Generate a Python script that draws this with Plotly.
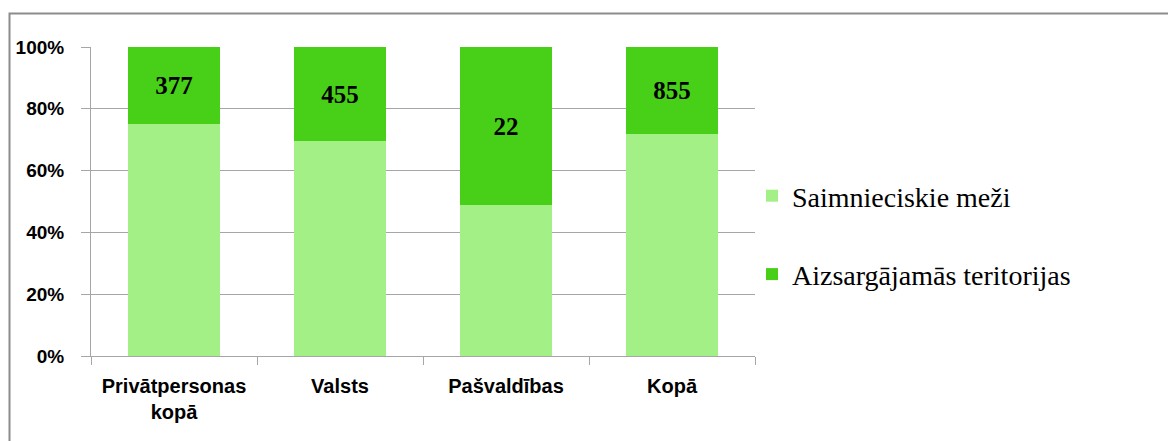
import plotly.graph_objects as go

categories = ["Privātpersonas<br>kopā", "Valsts", "Pašvaldības", "Kopā"]
saimnieciskie = [1131, 1040, 21, 2192]
aizsargajamas = [377, 455, 22, 855]
y_ticks = [0, 20, 40, 60, 80, 100]
y_tick_labels = ["0%", "20%", "40%", "60%", "80%", "100%"]

OFF = 8  # default page body margin
W, H = 1176 - OFF, 441 - OFF
# plot area in reference pixel coords
PL, PR, PT, PB = 91, 755, 47, 356
L, T = PL - OFF, PT - OFF
R, B = W - (PR - OFF), H - (PB - OFF)

fig = go.Figure()
fig.add_trace(go.Bar(
    x=categories, y=saimnieciskie, name="Saimnieciskie meži",
    legendgroup="a",
    marker=dict(color="#A3F087", line=dict(width=0)),
    hoverinfo="skip",
))
fig.add_trace(go.Bar(
    x=categories, y=aizsargajamas, name="Aizsargājamās teritorijas",
    legendgroup="b",
    marker=dict(color="#48D018", line=dict(width=0)),
    text=[str(v) for v in aizsargajamas], textposition="inside",
    insidetextanchor="middle", textangle=0,
    textfont=dict(family="Liberation Serif, Times New Roman, serif", size=25, color="black", weight="bold"),
    hoverinfo="skip",
))

pw = W - L - R
ph = H - T - B
def px_x(x):
    return (x - OFF - L) / pw
def px_y(y):
    return (H - B - (y - OFF)) / ph

fig.update_layout(
    barmode="stack", barnorm="percent", bargap=0.45,
    width=W, height=H,
    margin=dict(l=L, r=R, t=T, b=B, autoexpand=False),
    paper_bgcolor="white", plot_bgcolor="white",
    showlegend=True,
    legend=dict(
        x=px_x(752), y=px_y(171), xanchor="left", yanchor="top",
        traceorder="grouped",
        font=dict(family="Liberation Serif, Times New Roman, serif", size=28, color="black"),
        itemwidth=30, tracegroupgap=39, bgcolor="rgba(0,0,0,0)",
    ),
    shapes=[dict(
        type="rect", xref="paper", yref="paper",
        x0=px_x(9.5), x1=px_x(1190), y0=px_y(470), y1=px_y(13.5),
        line=dict(color="#8C8C8C", width=2), fillcolor="rgba(0,0,0,0)", layer="below",
    )],
)
fig.update_yaxes(
    range=[0, 100], tickvals=y_ticks, ticktext=y_tick_labels,
    showgrid=True, gridcolor="#A6A6A6", gridwidth=1,
    showline=True, linecolor="#A6A6A6", linewidth=1,
    ticks="outside", ticklen=9, tickcolor="#A6A6A6",
    ticklabelstandoff=13,
    tickfont=dict(family="Liberation Sans Narrow, Arial Narrow, Liberation Sans, Arial", size=19, color="black", weight="bold"),
    zeroline=False, fixedrange=True,
)
fig.update_xaxes(
    showline=True, linecolor="#A6A6A6", linewidth=1,
    ticks="outside", tickson="boundaries", ticklen=8, tickcolor="#A6A6A6",
    ticklabelstandoff=12,
    tickfont=dict(family="Liberation Sans Narrow, Arial Narrow, Liberation Sans, Arial", size=20, color="black", weight="bold"),
    fixedrange=True,
)
fig.write_html("out.html")
